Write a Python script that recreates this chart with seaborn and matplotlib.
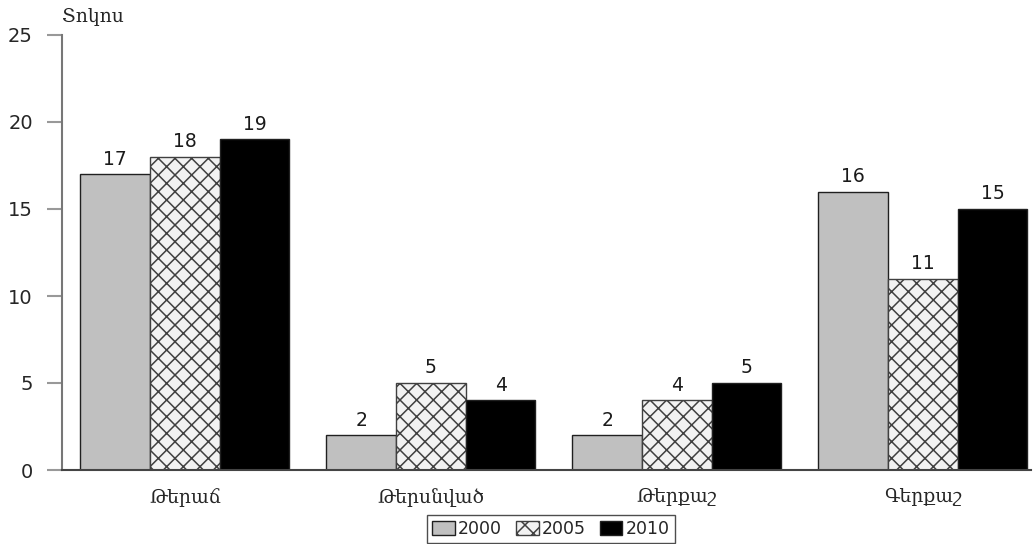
import matplotlib
matplotlib.use("Agg")
import matplotlib.pyplot as plt
from matplotlib.patches import Patch
import seaborn as sns
import pandas as pd

categories = ["Թերաճ", "Թերսնված", "Թերքաշ", "Գերքաշ"]
years = ["2000", "2005", "2010"]
values_2000 = [17, 2, 2, 16]
values_2005 = [18, 5, 4, 11]
values_2010 = [19, 4, 5, 15]
y_label = "Տոկոս"
y_ticks = [0, 5, 10, 15, 20, 25]

df = pd.DataFrame({
    "category": categories * 3,
    "year": [years[0]] * 4 + [years[1]] * 4 + [years[2]] * 4,
    "value": values_2000 + values_2005 + values_2010,
})

sns.set_style("white")
plt.rcParams["hatch.linewidth"] = 1.1

fig = plt.figure(figsize=(10.34, 5.44), dpi=100)
ax = fig.add_axes([62 / 1034, 74 / 544, (1031 - 62) / 1034, (470 - 35) / 544])

face = {"2000": "#c0c0c0", "2005": "#f2f2f2", "2010": "#000000"}
sns.barplot(data=df, x="category", y="value", hue="year", order=categories,
            hue_order=years, palette=face, width=0.85, edgecolor="#202020",
            linewidth=1.0, saturation=1, legend=False, ax=ax)

for bar in ax.containers[1]:
    bar.set_hatch("xx")
    bar.set_edgecolor("#404040")

for cont in ax.containers:
    ax.bar_label(cont, padding=4, fontsize=13.5, color="#1a1a1a",
                 family="DejaVu Sans")

ax.set_xlim(-0.5, 3.44)
ax.set_ylim(0, 25)
ax.set_yticks(y_ticks)
ax.set_ylabel("")
ax.set_xlabel("")
ax.tick_params(axis="y", length=11, width=1.5, color="#999999", pad=10,
               labelsize=14, left=True)
ax.tick_params(axis="x", length=0, pad=13, labelsize=13.5)
for lab in ax.get_xticklabels():
    lab.set_family("DejaVu Serif")
for lab in ax.get_yticklabels():
    lab.set_family("DejaVu Sans")

for s in ["top", "right"]:
    ax.spines[s].set_visible(False)
ax.spines["left"].set_color("#777777")
ax.spines["left"].set_linewidth(1.5)
ax.spines["bottom"].set_color("#444444")
ax.spines["bottom"].set_linewidth(1.5)

ax.text(0, 1.02, y_label, transform=ax.transAxes, ha="left", va="bottom",
        fontsize=13.5, family="DejaVu Serif")

handles = [
    Patch(facecolor=face["2000"], edgecolor="#202020", label=years[0]),
    Patch(facecolor=face["2005"], edgecolor="#404040", hatch="xx", label=years[1]),
    Patch(facecolor=face["2010"], edgecolor="#202020", label=years[2]),
]
leg = fig.legend(handles=handles, loc="upper center", ncol=3,
                 bbox_to_anchor=(551 / 1034, 1 - 515 / 544), frameon=True,
                 fancybox=False, edgecolor="#222222", fontsize=12.5,
                 handlelength=1.3, handleheight=0.9, handletextpad=0.2,
                 columnspacing=0.8, borderpad=0.3, borderaxespad=0)
leg.get_frame().set_linewidth(1.0)

fig.savefig("out.png", dpi=100)
